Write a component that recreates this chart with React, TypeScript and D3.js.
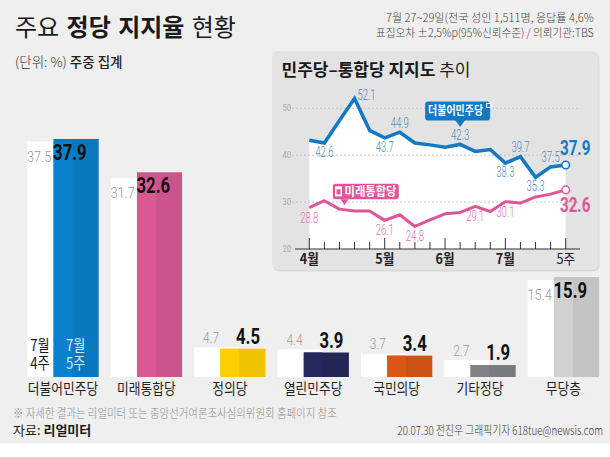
import React, { useLayoutEffect, useRef, useState } from 'react';
import * as d3 from 'd3';

// ---------- DATA ----------
const parties = ['더불어민주당', '미래통합당', '정의당', '열린민주당', '국민의당', '기타정당', '무당층'];
const prevWeek = [37.5, 31.7, 4.7, 4.4, 3.7, 2.7, 15.4];
const thisWeek = [37.9, 32.6, 4.5, 3.9, 3.4, 1.9, 15.9];
const partyColors = ['#0b80cc', '#d95a93', '#ffd000', '#25285c', '#da5718', '#808285', '#d1d1d1'];
const prevWeekLabel = ['7월', '4주'];
const thisWeekLabel = ['7월', '5주'];

const weeks = [
  '4월1주', '4월2주', '4월3주', '4월4주', '4월5주',
  '5월1주', '5월2주', '5월3주', '5월4주',
  '6월1주', '6월2주', '6월3주', '6월4주',
  '7월1주', '7월2주', '7월3주', '7월4주', '7월5주',
];
const minjuTrend = [43.2, 42.6, 47.4, 52.1, 45.3, 43.7, 44.9, 42.6, 42.2, 41.7, 42.3, 40.8, 41.2, 38.3, 39.7, 35.3, 37.5, 37.9];
const tonghapTrend = [28.8, 30.3, 28.5, 28.1, 28.1, 26.1, 27.3, 24.8, 26.2, 27.5, 27.8, 29.1, 28.0, 30.1, 29.8, 31.1, 31.7, 32.6];
const monthTicks = ['4월1주', '5월1주', '6월1주', '7월1주', '7월5주'];
const monthTickLabels = ['4월', '5월', '6월', '7월', '5주'];
const yGridValues = [20, 30, 40, 50];
// labelled points: week index and whether the label sits above (-1), below (1) or beside (0)
const minjuLabelIdx = [1, 3, 5, 6, 10, 13, 14, 15, 16];
const minjuLabelSide = [1, 0, 1, -1, -1, 1, -1, 1, -1];
const tonghapLabelIdx = [0, 5, 7, 11, 13];

const title = ['주요 ', '정당 지지율', ' 현황'];
const unitText = ['(단위: %) ', '주중 집계'];
const infoLines = ['7월 27~29일(전국 성인 1,511명, 응답률 4,6%', '표집오차 ±2,5%p(95%신뢰수준) / 의뢰기관:TBS'];
const insetTitle = ['민주당–통합당 지지도 ', '추이'];
const footNote = '※ 자세한 결과는 리얼미터 또는 중앙선거여론조사심의위원회 홈페이지 참조';
const sourceText = ['자료: ', '리얼미터'];
const creditText = '20.07.30 전진우 그래픽기자 618tue@newsis.com';
const tagMinju = '더불어민주당';
const tagTonghap = '미래통합당';

// ---------- STYLE ----------
const KR = "'Noto Sans CJK KR', 'Noto Sans', sans-serif";
const NUM = "Roboto, 'Noto Sans', sans-serif";
const BG = '#efefef';
const PANEL = '#e3e3e3';
const BLUE = '#1479c4';
const PINK = '#e0559a';

type TP = {
  x: number; y: number; sx?: number; anchor?: string; size: number; weight?: number;
  fill?: string; family?: string; children: React.ReactNode;
};
function T({ x, y, sx = 1, anchor = 'start', size, weight = 400, fill = '#222', family = KR, children }: TP) {
  return (
    <text
      transform={`translate(${x},${y}) scale(${sx},1)`}
      textAnchor={anchor as any}
      fontSize={size}
      fontWeight={weight}
      fill={fill}
      fontFamily={family}
    >
      {children}
    </text>
  );
}

// text scaled horizontally so that it spans exactly `width` pixels
type FP = { x: number; y: number; width: number; size: number; weight?: number; fill?: string; family?: string; children: React.ReactNode };
function FitText({ x, y, width, size, weight = 400, fill = '#222', family = KR, children }: FP) {
  const ref = useRef<SVGTextElement>(null);
  const [sx, setSx] = useState(1);
  useLayoutEffect(() => {
    if (ref.current) {
      const w = ref.current.getComputedTextLength();
      if (w > 0) setSx(width / w);
    }
  }, [width, size]);
  return (
    <text ref={ref} transform={`translate(${x},${y}) scale(${sx},1)`} fontSize={size} fontWeight={weight} fill={fill} fontFamily={family}>
      {children}
    </text>
  );
}

// two stacked lines in one text element
function TwoLine({ x, y, lines, fill }: { x: number; y: number; lines: string[]; fill: string }) {
  return (
    <text transform={`translate(${x},${y}) scale(0.82,1)`} textAnchor="middle" fontSize={16} fontFamily={KR} fill={fill}>
      <tspan x={0} y={0}>{lines[0]}</tspan>
      <tspan x={0} y={18}>{lines[1]}</tspan>
    </text>
  );
}

function darken(c: string) {
  const r = d3.rgb(c);
  const k = 0xef / 255;
  return d3.rgb(r.r * k, r.g * k, r.b * k).formatHex();
}

export default function App() {
  const W = 610, H = 457;

  // main bars
  const xBand = d3.scaleBand<string>().domain(parties).range([27.3, 599.1]).paddingInner(0.144).paddingOuter(0);
  const yBar = d3.scaleLinear().domain([0, 40]).range([377, 377 - 251.2]);
  const bw = xBand.bandwidth();
  const barW = bw * 0.632;
  const base = yBar(0);

  // inset
  const panel = { x: 272, y: 51, w: 326.5, h: 219 };
  const xIn = d3.scalePoint<string>().domain(weeks).range([309.3, 565.7]);
  const yIn = d3.scaleLinear().domain([20, 50]).range([249, 108.3]);
  const line = d3.line<number>().x((_, i) => xIn(weeks[i])!).y((d) => yIn(d));
  const area = d3.area<number>().x((_, i) => xIn(weeks[i])!).y0(yIn(20)).y1((d) => yIn(d));

  const lastI = weeks.length - 1;
  const bTip = { x: xIn(weeks[10])!, y: yIn(minjuTrend[10]) - 17.5 };
  const pTip = { x: (xIn(weeks[2])! + xIn(weeks[3])!) / 2 - 2.5, y: yIn(tonghapTrend[2]) - 4 };

  return (
    <svg width={W} height={H} style={{ position: 'absolute', left: 0, top: 0 }}>
      <rect x={0} y={0} width={W} height={H} fill="#fff" />
      <rect x={0} y={0} width={W} height={443} fill={BG} />

      {/* Title */}
      <text x={15} y={36} fontSize={24} fontFamily={KR} fill="#1a1a1a" wordSpacing={2}>
        <tspan fontWeight={400}>{title[0]}</tspan>
        <tspan fontWeight={700}>{title[1]}</tspan>
        <tspan fontWeight={400}>{title[2]}</tspan>
      </text>
      <text x={15} y={67} fontSize={13.5} fontFamily={KR} fill="#222">
        <tspan fontWeight={300} fill="#333">{unitText[0]}</tspan>
        <tspan fontWeight={500}>{unitText[1]}</tspan>
      </text>
      <FitText x={386} y={22} size={11.5} fill="#444" weight={300} width={208}>{infoLines[0]}</FitText>
      <FitText x={376} y={37} size={11.5} fill="#444" weight={300} width={218}>{infoLines[1]}</FitText>

      {/* Bars */}
      {parties.map((p, i) => {
        const bx = xBand(p)!;
        const cx = bx + bw - barW;
        const yP = yBar(prevWeek[i]);
        const yC = yBar(thisWeek[i]);
        const c = partyColors[i];
        const overlapTop = Math.max(yP, yC);
        const inside = yC - 28 < panel.y + panel.h;
        return (
          <g key={p}>
            <rect x={bx} y={yP} width={barW} height={base - yP} fill="#fff" />
            <rect x={cx} y={yC} width={barW} height={base - yC} fill={darken(c)} />
            <rect x={cx} y={overlapTop} width={bx + barW - cx} height={base - overlapTop} fill={c} />
            {inside ? (
              <>
                <T x={bx + 24} y={yP + 20} anchor="end" size={15} weight={300} fill="#9a9a9a" family={NUM} sx={0.85}>{prevWeek[i].toFixed(1)}</T>
                <T x={cx + barW - 12} y={yC + 21} anchor="end" size={22} weight={700} fill="#111" family={NUM} sx={0.76}>{thisWeek[i].toFixed(1)}</T>
              </>
            ) : (
              <>
                <T x={bx + 25} y={yP - 4.5} anchor="end" size={14} weight={300} fill="#9a9a9a" family={NUM} sx={0.85}>{prevWeek[i].toFixed(1)}</T>
                <T x={cx + barW - 5.5} y={yC - 5} anchor="end" size={22} weight={700} fill="#111" family={NUM} sx={0.76}>{thisWeek[i].toFixed(1)}</T>
              </>
            )}
            <T x={bx + bw / 2} y={394} anchor="middle" size={15} sx={0.85} fill="#222">{p}</T>
            {i === 0 && (
              <>
                <TwoLine x={bx + 12.5} y={base - 26} lines={prevWeekLabel} fill="#1a1a1a" />
                <TwoLine x={cx + 22} y={base - 26} lines={thisWeekLabel} fill="#d4e9f7" />
              </>
            )}
          </g>
        );
      })}

      {/* Inset panel */}
      <rect x={panel.x + 1} y={panel.y + 1.5} width={panel.w} height={panel.h} rx={6} fill="#d9d9d9" />
      <rect x={panel.x} y={panel.y} width={panel.w} height={panel.h} rx={6} fill={PANEL} />
      <text x={281.5} y={76} fontSize={17} fontFamily={KR} fill="#1a1a1a">
        <tspan fontWeight={700}>{insetTitle[0]}</tspan>
        <tspan fontWeight={400}>{insetTitle[1]}</tspan>
      </text>

      <path d={area(minjuTrend)!} fill="#fff" />

      {yGridValues.map((v) => (
        <g key={v}>
          {v > 20 && (
            <line x1={292} x2={580} y1={yIn(v)} y2={yIn(v)} stroke="#b8b8b8" strokeWidth={0.8} strokeDasharray="2,2" />
          )}
          <T x={291} y={yIn(v) + 3} anchor="end" size={8.5} fill="#aaa" family={NUM} sx={0.9}>{v}</T>
        </g>
      ))}

      {/* axis */}
      <line x1={295} x2={580} y1={yIn(20)} y2={yIn(20)} stroke="#333" strokeWidth={1.2} />
      {weeks.map((w) => {
        const major = monthTicks.includes(w);
        return (
          <line key={w} x1={xIn(w)!} x2={xIn(w)!} y1={yIn(20)} y2={yIn(20) - (major ? 11 : 7)} stroke="#333" strokeWidth={1} />
        );
      })}
      {monthTicks.map((w, i) => (
        <T key={w} x={xIn(w)!} y={264} anchor="middle" size={14} weight={i < monthTicks.length - 1 ? 700 : 400} fill="#222" sx={0.9}>
          {monthTickLabels[i]}
        </T>
      ))}

      {/* lines */}
      <path d={line(tonghapTrend)!} fill="none" stroke={PINK} strokeWidth={3} strokeLinejoin="round" />
      <path d={line(minjuTrend)!} fill="none" stroke={BLUE} strokeWidth={3.5} strokeLinejoin="miter" />

      {minjuLabelIdx.map((idx, k) => {
        const side = minjuLabelSide[k];
        const px = xIn(weeks[idx])!;
        const py = yIn(minjuTrend[idx]);
        const x = side === 0 ? px + 12 : px;
        const y = side === 0 ? py + 2 : side > 0 ? py + 14 : py - 4.5;
        return (
          <T key={idx} x={x} y={y} anchor="middle" size={14} weight={300} fill="#4f88bd" family={NUM} sx={0.68}>
            {minjuTrend[idx].toFixed(1)}
          </T>
        );
      })}
      {tonghapLabelIdx.map((idx) => (
        <T key={idx} x={xIn(weeks[idx])!} y={yIn(tonghapTrend[idx]) + 15} anchor="middle" size={14} weight={300} fill="#e070a8" family={NUM} sx={0.68}>
          {tonghapTrend[idx].toFixed(1)}
        </T>
      ))}

      {/* end markers */}
      <circle cx={xIn(weeks[lastI])!} cy={yIn(minjuTrend[lastI])} r={3.8} fill="#fff" stroke={BLUE} strokeWidth={1.5} />
      <circle cx={xIn(weeks[lastI])!} cy={yIn(tonghapTrend[lastI])} r={3.8} fill="#fff" stroke={PINK} strokeWidth={1.5} />
      <T x={xIn(weeks[lastI])! + 9.5} y={yIn(minjuTrend[lastI]) - 10} anchor="middle" size={20} weight={700} fill={BLUE} family={NUM} sx={0.76}>
        {minjuTrend[lastI].toFixed(1)}
      </T>
      <T x={xIn(weeks[lastI])! + 9.5} y={yIn(tonghapTrend[lastI]) + 22} anchor="middle" size={20} weight={700} fill={PINK} family={NUM} sx={0.76}>
        {tonghapTrend[lastI].toFixed(1)}
      </T>

      {/* tags */}
      <g>
        <rect x={bTip.x - 35} y={bTip.y - 25.5} width={65} height={19} rx={3} fill={BLUE} />
        <path d={`M${bTip.x - 5},${bTip.y - 7} L${bTip.x + 5},${bTip.y - 7} L${bTip.x},${bTip.y} Z`} fill={BLUE} />
        <FitText x={bTip.x - 32} y={bTip.y - 11.5} size={12} weight={700} fill="#fff" width={55}>{tagMinju}</FitText>
        <rect x={bTip.x + 26.5} y={bTip.y - 23.5} width={4.5} height={4} fill="none" stroke="#fff" strokeWidth={1} />
      </g>
      <g>
        <rect x={pTip.x - 11.7} y={pTip.y - 21.3} width={66} height={15.5} rx={3} fill={PINK} />
        <path d={`M${pTip.x - 4},${pTip.y - 6} L${pTip.x + 4},${pTip.y - 6} L${pTip.x},${pTip.y} Z`} fill={PINK} />
        <rect x={pTip.x - 9.5} y={pTip.y - 18.8} width={7} height={10} fill="#fff" />
        <rect x={pTip.x - 8} y={pTip.y - 15.8} width={4} height={5} fill={PINK} />
        <FitText x={pTip.x} y={pTip.y - 9} size={12} weight={700} fill="#fff" width={52}>{tagTonghap}</FitText>
      </g>

      {/* footer */}
      <FitText x={13} y={418} size={12} weight={300} fill="#8c8c8c" width={324}>{footNote}</FitText>
      <text x={13} y={435} fontSize={13} fontFamily={KR} fill="#1a1a1a">
        <tspan fontWeight={400}>{sourceText[0]}</tspan>
        <tspan fontWeight={700}>{sourceText[1]}</tspan>
      </text>
      <FitText x={397.5} y={435} size={12} weight={300} fill="#333" width={206}>{creditText}</FitText>
    </svg>
  );
}
